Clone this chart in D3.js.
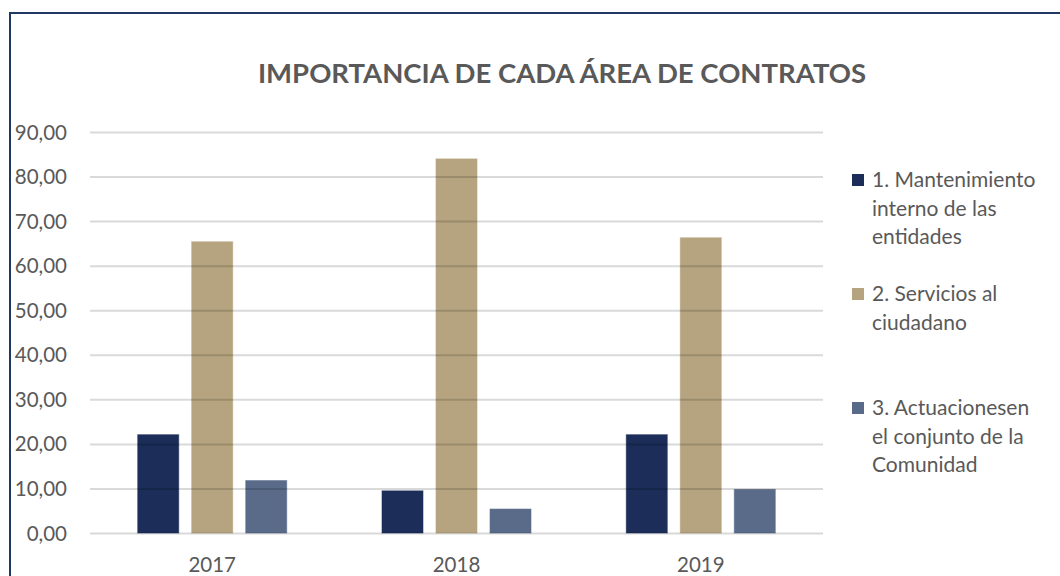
<!DOCTYPE html>
<html>
    <head>
        <meta charset="UTF-8">
        <title>Importancia de cada área de contratos</title>
        <script src="https://d3js.org/d3.v7.min.js"></script>
        <style>
            body { margin: 0; background: #fff; }
            svg text { font-family: Lato, "Open Sans", sans-serif; fill: #595959; }
        </style>
    </head>
    <body>
        <div id="chart"></div>
        <script>
            // data
            var years = ["2017", "2018", "2019"]
            var seriesNames = ["1. Mantenimiento interno de las entidades", "2. Servicios al ciudadano", "3. Actuacionesen el conjunto de la Comunidad"]
            var mantenimiento = [22.3, 9.7, 22.3]
            var servicios = [65.6, 84.2, 66.5]
            var actuaciones = [12.0, 5.6, 10.0]
            var yTicks = [0, 10, 20, 30, 40, 50, 60, 70, 80, 90]
            var legendLines = [["1. Mantenimiento", "interno de las", "entidades"], ["2. Servicios al", "ciudadano"], ["3. Actuacionesen", "el conjunto de la", "Comunidad"]]

            var width = 1060
            var height = 576
            var colors = ["#1b2d58", "#b5a47f", "#5a6b8a"]

            var svg = d3.select("#chart")
                .append("svg")
                .attr("width", width)
                .attr("height", height)

            // frame
            svg.append("rect")
                .attr("x", 10).attr("y", 13)
                .attr("width", 1100).attr("height", 700)
                .attr("fill", "none")
                .attr("stroke", "#1f3864")
                .attr("stroke-width", 2)

            // title
            svg.append("text")
                .attr("x", 562).attr("y", 83)
                .attr("text-anchor", "middle")
                .style("font-size", "27.5px")
                .style("font-weight", "bold")
                .text("IMPORTANCIA DE CADA ÁREA DE CONTRATOS")

            var x0 = d3.scaleBand().domain(years).range([90, 823]).padding(0)
            var x1 = d3.scaleBand().domain(d3.range(3))
                .range([0, x0.bandwidth()])
                .paddingInner(0.222)
                .paddingOuter(0.873)
            var y = d3.scaleLinear().domain([0, 90]).range([533.5, 132.5])

            var table = years.map(function(yr, i) {
                return [mantenimiento[i], servicios[i], actuaciones[i]]
            })

            // bars
            var groups = svg.append("g").selectAll("g")
                .data(table)
                .enter()
                .append("g")
                .attr("transform", function(d, i) { return "translate(" + x0(years[i]) + ",0)" })

            groups.selectAll("rect")
                .data(function(d) { return d })
                .enter()
                .append("rect")
                .attr("x", function(d, j) { return x1(j) })
                .attr("width", x1.bandwidth())
                .attr("y", function(d) { return y(d) })
                .attr("height", function(d) { return y(0) - y(d) })
                .attr("fill", function(d, j) { return colors[j] })
                .attr("stroke", "#ffffff")
                .attr("stroke-opacity", 0.45)
                .attr("stroke-width", 1)

            // gridlines drawn over the bars, semi transparent
            svg.append("g").selectAll("line")
                .data(yTicks)
                .enter()
                .append("line")
                .attr("x1", 90).attr("x2", 823)
                .attr("y1", function(d) { return y(d) })
                .attr("y2", function(d) { return y(d) })
                .attr("stroke", "rgba(0,0,0,0.15)")
                .attr("stroke-width", 2)

            // y labels
            svg.append("g").selectAll("text")
                .data(yTicks)
                .enter()
                .append("text")
                .attr("x", 67)
                .attr("y", function(d) { return y(d) + 7 })
                .attr("text-anchor", "end")
                .style("font-size", "20.5px")
                .text(function(d) { return d3.format(".2f")(d).replace(".", ",") })

            // x labels
            svg.append("g").selectAll("text")
                .data(years)
                .enter()
                .append("text")
                .attr("x", function(d) { return x0(d) + x0.bandwidth() / 2 })
                .attr("y", 572)
                .attr("text-anchor", "middle")
                .style("font-size", "20.5px")
                .text(function(d) { return d })

            // legend
            var legendTop = [180, 294, 408]
            var legend = svg.append("g").selectAll("g")
                .data(seriesNames)
                .enter()
                .append("g")
                .attr("transform", function(d, i) { return "translate(852," + legendTop[i] + ")" })

            legend.append("rect")
                .attr("x", 0).attr("y", -6)
                .attr("width", 12).attr("height", 12)
                .attr("fill", function(d, i) { return colors[i] })

            legend.each(function(d, i) {
                d3.select(this).selectAll("text")
                    .data(legendLines[i])
                    .enter()
                    .append("text")
                    .attr("x", 20)
                    .attr("y", function(t, k) { return 7 + k * 28.5 })
                    .style("font-size", "21px")
                    .text(function(t) { return t })
            })
        </script>
    </body>
</html>
